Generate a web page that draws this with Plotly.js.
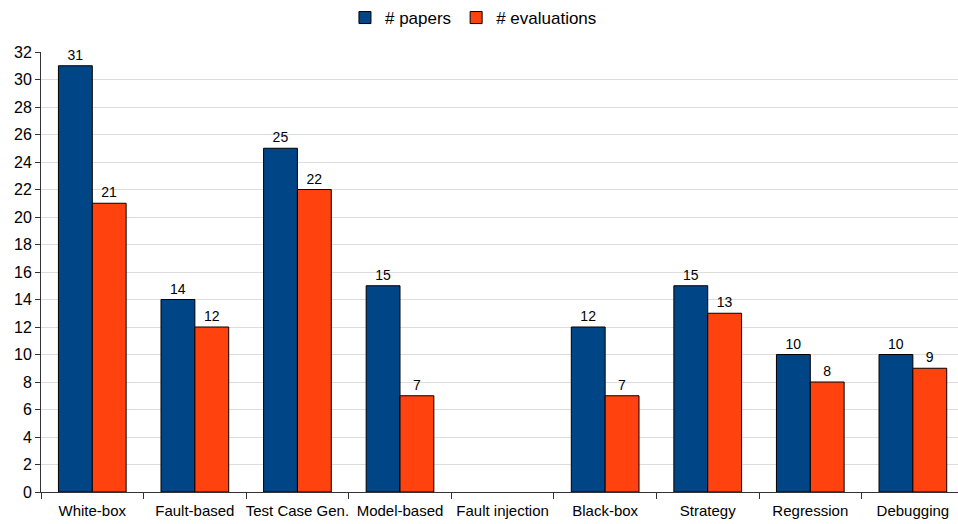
<!DOCTYPE html>
<html>
<head>
<meta charset="utf-8">
<script src="https://cdn.plot.ly/plotly-3.0.1.min.js"></script>
<style>html,body{margin:0;padding:0;background:#fff;overflow:hidden}</style>
</head>
<body>
<div id="chart" style="width:958px;height:524px"></div>
<script>
var categories = ["White-box", "Fault-based", "Test Case Gen.", "Model-based", "Fault injection", "Black-box", "Strategy", "Regression", "Debugging"];
var papers = [31, 14, 25, 15, 0, 12, 15, 10, 10];
var evaluations = [21, 12, 22, 7, 0, 7, 13, 8, 9];
var yTicks = [0, 2, 4, 6, 8, 10, 12, 14, 16, 18, 20, 22, 24, 26, 28, 30, 32];

function labels(arr) { return arr.map(function (v) { return v > 0 ? String(v) : ""; }); }
function bars(arr) { return arr.map(function (v) { return v > 0 ? v : null; }); }

var FONT = "Liberation Sans, Arial, sans-serif";

var traces = [
  {
    type: "bar", name: "# papers", x: categories, y: bars(papers),
    text: labels(papers), textposition: "outside", cliponaxis: false,
    textfont: {family: FONT, size: 14, color: "#000"},
    marker: {color: "#004586", line: {color: "#000", width: 1}}
  },
  {
    type: "bar", name: "# evaluations", x: categories, y: bars(evaluations),
    text: labels(evaluations), textposition: "outside", cliponaxis: false,
    textfont: {family: FONT, size: 14, color: "#000"},
    marker: {color: "#ff420e", line: {color: "#000", width: 1}}
  }
];

var layout = {
  width: 958, height: 524,
  margin: {l: 41, r: 0, t: 52, b: 32, pad: 0},
  paper_bgcolor: "#fff", plot_bgcolor: "#fff",
  font: {family: FONT, size: 15, color: "#000"},
  barmode: "group", bargap: 0.34, bargroupgap: 0,
  showlegend: true,
  legend: {orientation: "h", x: 0.4716, xanchor: "center", y: 1, yref: "container", yanchor: "top",
           font: {size: 17}, itemwidth: 30, traceorder: "normal"},
  xaxis: {
    type: "category", range: [-0.5, 8.44], tickson: "boundaries", tickangle: 0,
    ticks: "outside", ticklen: 6, tickcolor: "#333", tickwidth: 1, ticklabelstandoff: 5,
    showline: true, linecolor: "#333", linewidth: 1,
    showgrid: false, zeroline: false, tickfont: {size: 15}, fixedrange: true
  },
  yaxis: {
    range: [0, 32], tickvals: yTicks, ticktext: yTicks.map(String),
    ticks: "outside", ticklen: 5, tickcolor: "#333",
    showline: true, linecolor: "#333", linewidth: 1,
    showgrid: true, gridcolor: "#dddddd", gridwidth: 1,
    zeroline: false, tickfont: {size: 16}, fixedrange: true
  }
};

Plotly.newPlot("chart", traces, layout, {displayModeBar: false, staticPlot: true});
</script>
</body>
</html>
